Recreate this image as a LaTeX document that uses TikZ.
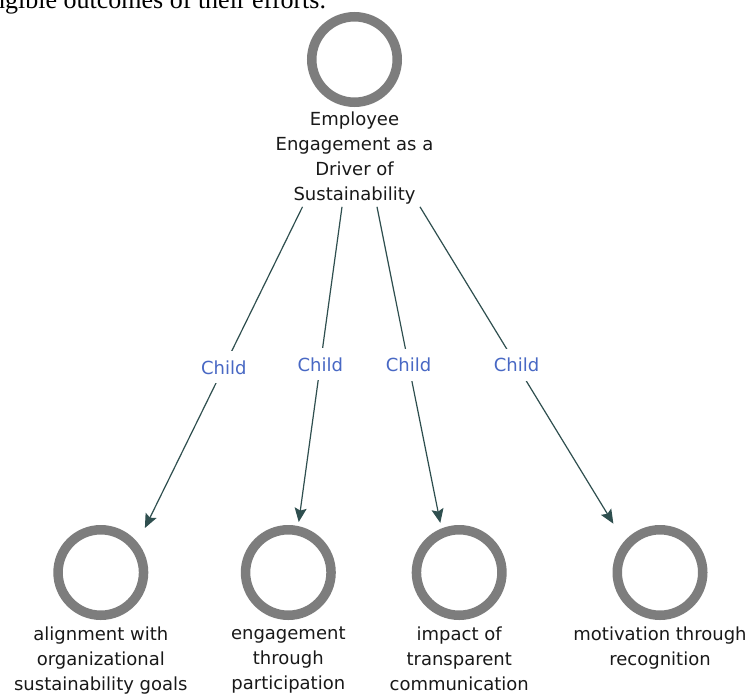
\documentclass[tikz,border=0pt]{standalone}
\usepackage{fontspec}
\setmainfont{DejaVu Sans}
\newfontfamily\serifdoc{Liberation Serif}
\usetikzlibrary{positioning,arrows.meta}
\definecolor{ringgray}{RGB}{125,125,125}
\definecolor{edgeteal}{RGB}{47,79,79}
\definecolor{childblue}{RGB}{72,104,196}
\definecolor{labeltext}{RGB}{25,25,25}

\begin{document}
\begin{tikzpicture}[x=1pt,y=-1pt]

    \tikzset{
      ring/.style={
        circle,
        draw=ringgray,
        line width=9.5pt,
        minimum size=85.5pt,
        inner sep=0pt,
        outer sep=4.75pt,
      },
      caption/.style={
        align=center,
        inner sep=0pt,
        text=labeltext,
        font=\fontsize{18}{25}\selectfont,
      },
      childlink/.style={
        draw=edgeteal,
        line width=1.2pt,
        -{Stealth[length=14pt,width=12pt,inset=2.5pt]},
      },
      childtag/.style={
        fill=white,
        inner xsep=2pt,
        inner ysep=9pt,
        text=childblue,
        font=\fontsize{18}{22}\selectfont,
      },
    }
    \useasboundingbox[fill=white] (0,0) rectangle (752,697);
    % cut-off line of the page above the picture
    \node[anchor=base west, inner sep=0pt, font=\serifdoc\fontsize{26}{30}\selectfont] (prevline) at (-8,8.5) {ngible outcomes of their efforts.};

    \node[ring] (topic) at (354.5,59.5) {};
    \node[caption, below=5pt of topic] (topiclabel) {Employee\\Engagement as a\\Driver of\\Sustainability};

    \node[ring] (goals) at (100.8,572.5) {};
    \node[ring] (participation) at (288.3,572.5) {};
    \node[ring] (communication) at (459.2,572.5) {};
    \node[ring] (recognition) at (660,572.5) {};
    \node[caption, below=7pt of goals] (goalslabel) {alignment with\\organizational\\sustainability goals};
    \node[caption, below=7pt of participation] (participationlabel) {engagement\\through\\participation};
    \node[caption, below=7pt of communication] (communicationlabel) {impact of\\transparent\\communication};
    \node[caption, below=7pt of recognition] (recognitionlabel) {motivation through\\recognition};

    \draw[childlink, shorten >=16.3pt] ([xshift=-52pt,yshift=-2pt]topiclabel.south) -- (goals.39) node[childtag, pos=0.478] (tagA) {Child};
    \draw[childlink, shorten >=4.1pt] ([xshift=-12.5pt,yshift=-2pt]topiclabel.south) -- (participation.78) node[childtag, pos=0.4935] (tagB) {Child};
    \draw[childlink, shorten >=5.7pt] ([xshift=22.5pt,yshift=-2pt]topiclabel.south) -- (communication.112) node[childtag, pos=0.491] (tagC) {Child};
    \draw[childlink, shorten >=20.7pt] ([xshift=65.5pt,yshift=-2pt]topiclabel.south) -- (recognition.139) node[childtag, pos=0.473] (tagD) {Child};

\end{tikzpicture}
\end{document}
